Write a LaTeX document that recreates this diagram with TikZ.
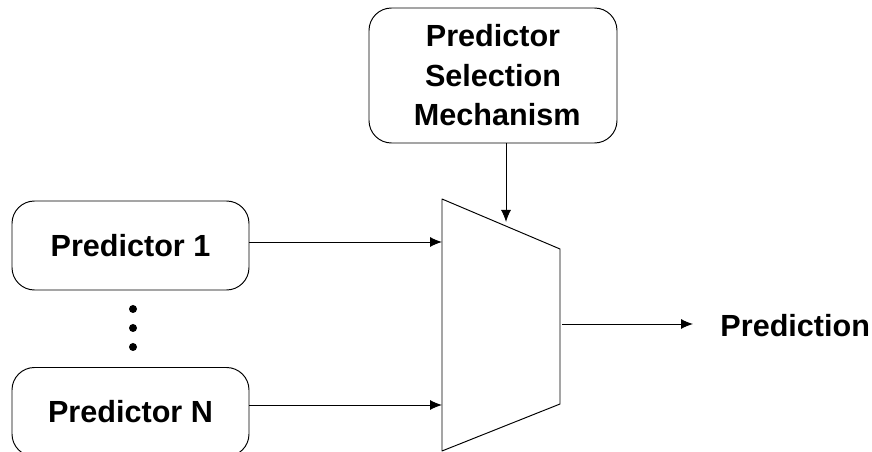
\documentclass[tikz,border=0pt]{standalone}
\usepackage{fontspec}
\setmainfont{Liberation Sans}
\usetikzlibrary{arrows.meta}
\tikzset{
	predbox/.style={draw,rounded corners=0.45cm,minimum width=4.74cm,minimum height=1.78cm,align=center},
	conn/.style={->,line width=0.55pt}
}
\begin{document}
\begin{tikzpicture}[>={Latex[length=2.4mm,width=2mm]},line join=round,line width=0.55pt,font=\fontsize{17.4}{22.5}\selectfont\bfseries]
		\useasboundingbox (0,0) rectangle (17.44,9.04);
		% predictor boxes
		\node[predbox] (p1) at (2.61,4.13) {Predictor 1};
		\node[predbox] (pN) at (2.61,0.80) {Predictor N};
		\node[predbox,minimum width=4.96cm,minimum height=2.70cm,inner sep=0pt] (sel) at (9.86,7.53) {Predictor\\Selection\\~Mechanism};
		\foreach \y in {2.86,2.48,2.10}
			\fill (2.66,\y) circle (0.08);
		% mux
		\coordinate (mtl) at (8.84,5.06);
		\coordinate (mtr) at (11.20,4.06);
		\coordinate (mbr) at (11.20,0.96);
		\coordinate (mbl) at (8.84,0.02);
		\draw (mtl)--(mtr)--(mbr)--(mbl)--cycle;
		\coordinate (mout) at (11.24,2.56);
		\coordinate (msel) at (10.12,4.60);
		\node[anchor=west,inner sep=0pt] (pred) at (14.40,2.52) {Prediction};
		\draw[conn] (p1.east |- 0,4.20) -- (mtl |- 0,4.20);
		\draw[conn] (pN.east |- 0,0.94) -- (mtl |- 0,0.94);
		\draw[conn] (sel.south -| msel) -- (msel);
		\draw[conn] (mout) -- (13.86,2.56);
	\end{tikzpicture}
\end{document}
